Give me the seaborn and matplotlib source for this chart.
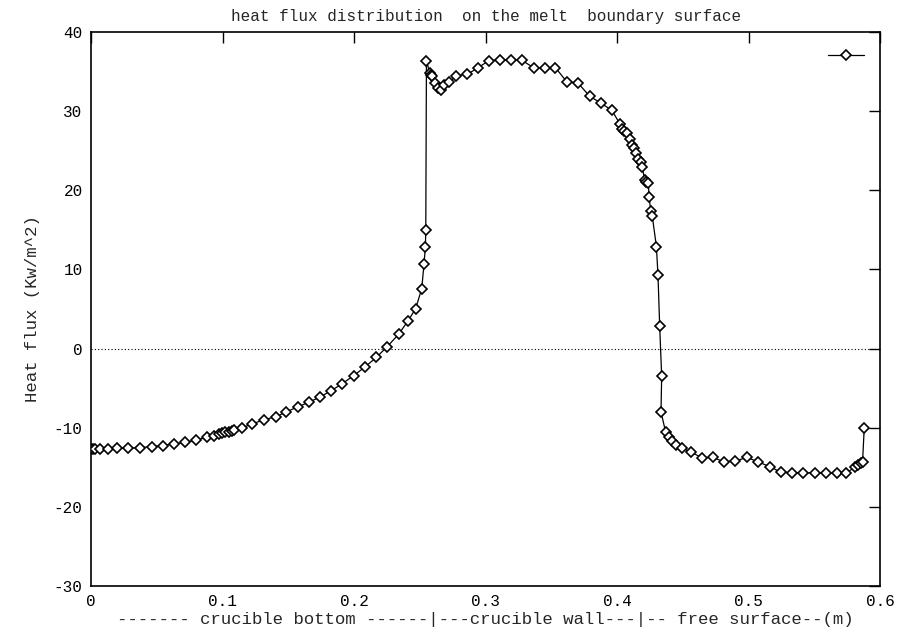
import matplotlib
matplotlib.use("Agg")
import matplotlib.pyplot as plt
import seaborn as sns
from matplotlib.lines import Line2D

# position along the boundary (m)
x_pos = [0.000, 0.0015, 0.003, 0.007, 0.0127, 0.020, 0.0285, 0.0374, 0.0463,
         0.0547, 0.063, 0.0718, 0.080, 0.0883, 0.0934, 0.097, 0.0997, 0.102,
         0.1048, 0.107, 0.109, 0.115, 0.1227, 0.1315, 0.1405, 0.1486, 0.157,
         0.1654, 0.1743, 0.1827, 0.1908, 0.1998, 0.2084, 0.217, 0.2252, 0.2338,
         0.241, 0.2468, 0.2514, 0.2532, 0.2542, 0.2545, 0.2550, 0.2575, 0.2585,
         0.2593, 0.2613, 0.2639, 0.2659, 0.268, 0.272, 0.2773, 0.286, 0.2944,
         0.3025, 0.311, 0.319, 0.3275, 0.3364, 0.3448, 0.353, 0.3618, 0.370,
         0.379, 0.3878, 0.396, 0.402, 0.404, 0.405, 0.4076, 0.4094, 0.4115,
         0.4127, 0.4145, 0.416, 0.4178, 0.419, 0.4210, 0.4216, 0.4237, 0.4242,
         0.4255, 0.4267, 0.4298, 0.431, 0.4323, 0.4338, 0.4333, 0.4369, 0.439,
         0.4415, 0.4445, 0.449, 0.456, 0.4644, 0.4725, 0.4814, 0.4898, 0.4987,
         0.5069, 0.5158, 0.5242, 0.533, 0.541, 0.550, 0.5585, 0.567, 0.574,
         0.5807, 0.583, 0.585, 0.5865, 0.5878]

# heat flux (Kw/m^2)
heat_flux = [-12.7, -12.7, -12.65, -12.65, -12.65, -12.6, -12.6, -12.5, -12.4,
             -12.25, -12.05, -11.85, -11.55, -11.2, -11.0, -10.85, -10.7, -10.6,
             -10.5, -10.4, -10.3, -10.0, -9.5, -9.0, -8.6, -8.0, -7.36,
             -6.8, -6.1, -5.3, -4.45, -3.4, -2.3, -1.1, 0.25, 1.8,
             3.5, 5.05, 7.55, 10.75, 12.87, 15.0, 36.4, 34.8, 34.6,
             34.4, 33.5, 32.9, 32.7, 33.3, 33.65, 34.45, 34.66, 35.5,
             36.4, 36.47, 36.43, 36.43, 35.5, 35.5, 35.5, 33.7, 33.6,
             31.9, 31.0, 30.1, 28.4, 27.8, 27.5, 27.2, 26.5, 25.7,
             25.4, 24.7, 23.9, 23.6, 22.9, 21.3, 21.1, 20.9, 19.2,
             17.4, 16.7, 12.9, 9.3, 2.85, -3.5, -8.0, -10.6, -11.15,
             -11.7, -12.2, -12.55, -13.05, -13.8, -13.75, -14.3, -14.2, -13.75,
             -14.3, -14.9, -15.6, -15.7, -15.7, -15.7, -15.7, -15.7, -15.7,
             -15.0, -14.7, -14.5, -14.3, -10.0]

x_ticks = [0, 0.1, 0.2, 0.3, 0.4, 0.5, 0.6]
x_tick_labels = ["0", "0.1", "0.2", "0.3", "0.4", "0.5", "0.6"]
y_ticks = [-30, -20, -10, 0, 10, 20, 30, 40]

sns.set_style("white")
plt.rcParams["font.family"] = ["Liberation Mono", "DejaVu Sans Mono"]
plt.rcParams["axes.unicode_minus"] = False

fig = plt.figure(figsize=(8.98, 6.33), dpi=100)
ax = fig.add_axes([0.1013, 0.0742, 0.879, 0.8752])

ax.axhline(0, color="black", linestyle=(0, (1, 2)), linewidth=0.8, zorder=1)

sns.lineplot(x=x_pos, y=heat_flux, sort=False, estimator=None, ax=ax,
             color="black", linewidth=0.9, marker="D", markersize=5,
             markerfacecolor="white", markeredgecolor="black",
             markeredgewidth=1.2, zorder=3)

ax.set_xlim(0, 0.6)
ax.set_ylim(-30, 40)
ax.set_xticks(x_ticks)
ax.set_xticklabels(x_tick_labels)
ax.set_yticks(y_ticks)
ax.tick_params(direction="in", length=8, width=1, top=True, right=True,
               labelsize=11.5, colors="black", pad=6)
for spine in ax.spines.values():
    spine.set_color("black")
    spine.set_linewidth(1.2)

ax.set_title("heat flux distribution  on the melt  boundary surface",
             fontsize=11.5, pad=8)
ax.set_ylabel("Heat flux (Kw/m^2)", fontsize=12.5, labelpad=10)
ax.set_xlabel("------- crucible bottom ------|---crucible wall---|-- free surface--(m)",
              fontsize=12.5, labelpad=2)

key = Line2D([], [], color="black", linewidth=0.9, marker="D", markersize=5,
             markerfacecolor="white", markeredgecolor="black", markeredgewidth=1.2)
ax.legend([key], [""], loc="upper right", frameon=False, handlelength=2.6,
          borderaxespad=0.8, markerfirst=False)

fig.savefig("out.png", dpi=100, facecolor="white")
